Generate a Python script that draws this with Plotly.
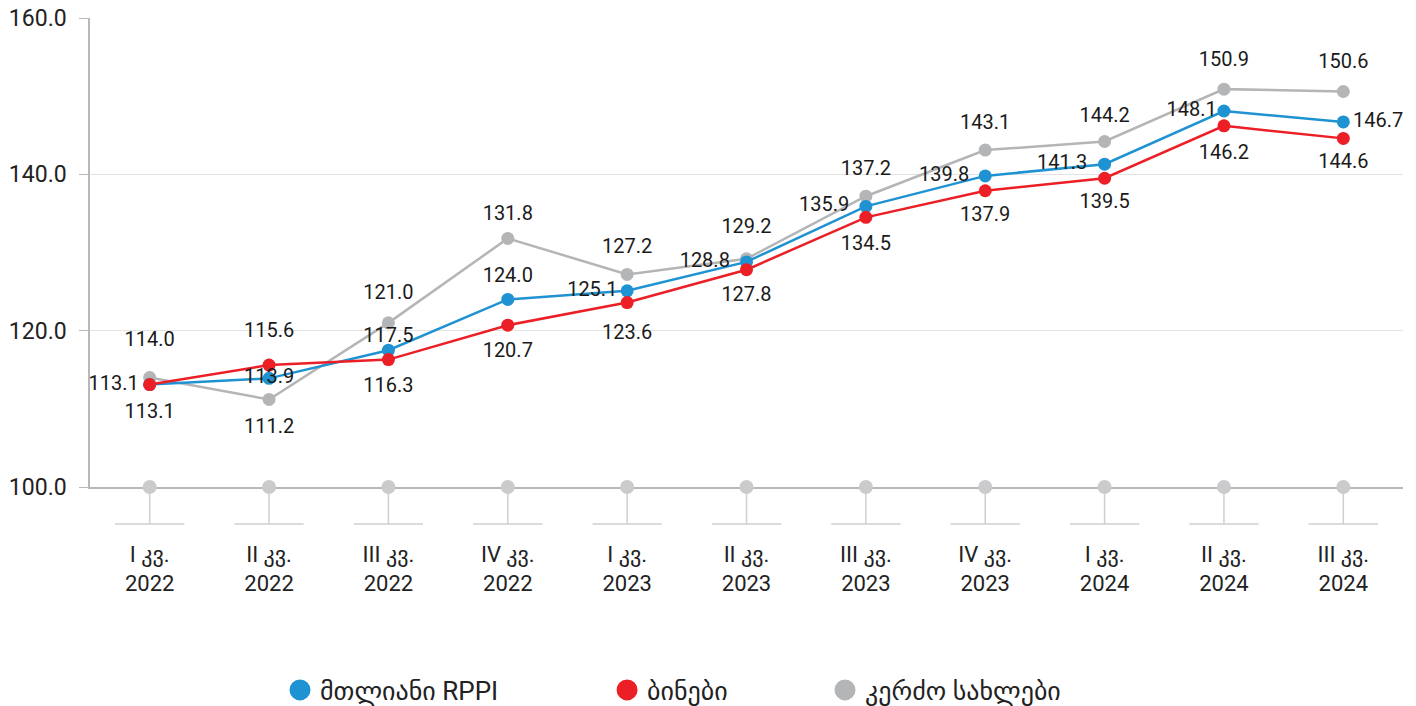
import plotly.graph_objects as go

quarters = ["I კვ.", "II კვ.", "III კვ.", "IV კვ.", "I კვ.", "II კვ.", "III კვ.", "IV კვ.", "I კვ.", "II კვ.", "III კვ."]
years = ["2022", "2022", "2022", "2022", "2023", "2023", "2023", "2023", "2024", "2024", "2024"]
tick_labels = [f"{q}<br>{y}" for q, y in zip(quarters, years)]

total_rppi = [113.1, 113.9, 117.5, 124.0, 125.1, 128.8, 135.9, 139.8, 141.3, 148.1, 146.7]
apartments = [113.1, 115.6, 116.3, 120.7, 123.6, 127.8, 134.5, 137.9, 139.5, 146.2, 144.6]
houses = [114.0, 111.2, 121.0, 131.8, 127.2, 129.2, 137.2, 143.1, 144.2, 150.9, 150.6]
baseline = [100.0] * len(tick_labels)

series_names = ["მთლიანი RPPI", "ბინები", "კერძო სახლები"]
colors = ["#1f93d2", "#ec1f26", "#b4b5b7"]

# label placement (style only)
pos_total = ["middle left", "middle center", "top center", "top center", "middle left", "middle left",
             "middle left", "middle left", "middle left", "middle left", "middle right"]
pos_apart = ["bottom center", "top center", "bottom center", "bottom center", "bottom center", "bottom center",
             "bottom center", "bottom center", "bottom center", "bottom center", "bottom center"]
pos_house = ["top center", "bottom center", "top center", "top center", "top center", "top center",
             "top center", "top center", "top center", "top center", "top center"]
# invisible spacer-marker sizes that set each label's distance from its point
gap_total = [16, 0, 4, 18, 14, 25, 25, 24, 26, 10, 14]
gap_apart = [28, 35, 26, 26, 32, 24, 26, 22, 22, 28, 22]
gap_house = [41, 28, 28, 20, 24, 32, 24, 24, 22, 28, 28]

x = list(range(len(tick_labels)))
FONT = "Roboto, DejaVu Sans, sans-serif"
TXT = "#1a1a1a"

fig = go.Figure()

# baseline decoration dots
fig.add_trace(go.Scatter(x=x, y=baseline, mode="markers", cliponaxis=False, showlegend=False,
                         marker=dict(size=14, color="#cbcbcd"), hoverinfo="skip"))

series = [(houses, series_names[2], colors[2], pos_house, gap_house),
          (total_rppi, series_names[0], colors[0], pos_total, gap_total),
          (apartments, series_names[1], colors[1], pos_apart, gap_apart)]

for vals, name, col, pos, gap in series:
    fig.add_trace(go.Scatter(
        x=x, y=vals, mode="lines+markers", name=name, showlegend=False,
        line=dict(color=col, width=2.5), marker=dict(size=13, color=col), cliponaxis=False))

for vals, name, col, pos, gap in series:
    fig.add_trace(go.Scatter(
        x=x, y=vals, mode="markers+text", name=name, showlegend=False, hoverinfo="skip",
        marker=dict(size=gap, color=col, opacity=0),
        text=[f"{v:.1f}" for v in vals], textposition=pos,
        textfont=dict(size=20, color=TXT, family=FONT), cliponaxis=False))

legend_ids = ["legend", "legend2", "legend3"]
legend_x = [0.1447, 0.3938, 0.5598]
for name, col, lid in zip(series_names, colors, legend_ids):
    fig.add_trace(go.Scatter(x=[None], y=[None], mode="markers", name=name, legend=lid,
                             marker=dict(size=16, color=col, line=dict(color=col, width=5))))

shapes = []
for i in x:
    shapes.append(dict(type="line", xref="x", yref="paper", x0=i, x1=i, y0=0, y1=-0.079,
                       line=dict(color="#cfcfd1", width=1.5), layer="below"))
    shapes.append(dict(type="line", xref="x", yref="paper", x0=i - 0.29, x1=i + 0.29, y0=-0.079, y1=-0.079,
                       line=dict(color="#cfcfd1", width=1.5), layer="below"))

legend_style = dict(orientation="h", xanchor="left", y=-0.4328, yanchor="middle",
                    font=dict(size=26, color="#222222"), itemsizing="trace", itemwidth=30,
                    bgcolor="rgba(0,0,0,0)")

fig.update_layout(
    width=1416, height=706,
    margin=dict(l=90, r=13, t=18, b=219, autoexpand=False),
    paper_bgcolor="white", plot_bgcolor="white",
    font=dict(family=FONT, color=TXT),
    shapes=shapes,
    xaxis=dict(range=[-0.5, len(x) - 0.5], tickmode="array", tickvals=x, ticktext=tick_labels,
               showgrid=False, showline=True, linecolor="#b8b8b8", linewidth=1.5, ticks="",
               tickfont=dict(size=22, color="#222222"), ticklabelstandoff=47, layer="below traces",
               zeroline=False, automargin=False),
    yaxis=dict(range=[100, 160], dtick=20, tickformat=".1f", showgrid=True, gridcolor="#e3e3e3",
               gridwidth=1, showline=True, linecolor="#b8b8b8", linewidth=1.5, ticks="outside",
               ticklen=9, tickcolor="#b8b8b8", tickfont=dict(size=23, color="#222222"),
               ticklabelstandoff=8, zeroline=False, layer="below traces", automargin=False),
    legend=dict(x=legend_x[0], **legend_style),
    legend2=dict(x=legend_x[1], **legend_style),
    legend3=dict(x=legend_x[2], **legend_style),
)

fig.write_html("out.html", config={"displayModeBar": False},
               post_script="document.body.style.margin='0';")
